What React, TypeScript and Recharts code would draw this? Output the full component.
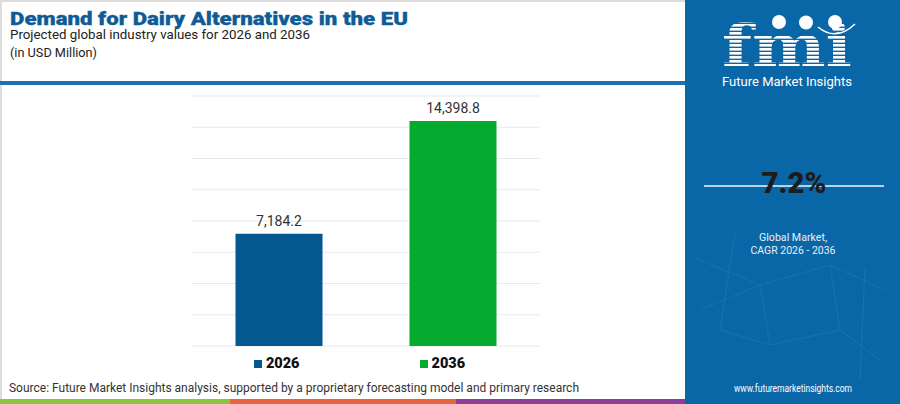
import React from 'react';
import { BarChart, Bar, XAxis, YAxis, CartesianGrid, Cell, LabelList, Legend } from 'recharts';

const categories = ['2026', '2036'];
const values = [7184.2, 14398.8];
const barColors = ['#03598f', '#05ab2f'];
const yTicks = [0, 2000, 4000, 6000, 8000, 10000, 12000, 14000, 16000];
const cagrText = '7.2%';

const data = categories.map((c, i) => ({ category: c, value: values[i] }));

const FONT = 'Roboto, "Open Sans", sans-serif';

const fmt = (v: number) =>
  v.toLocaleString('en-US', { minimumFractionDigits: 1, maximumFractionDigits: 1 });

const renderLabel = (props: any) => {
  const { x, y, width, value } = props;
  return (
    <text
      x={Number(x) + Number(width) / 2}
      y={Number(y) - 8}
      textAnchor="middle"
      fontSize={14}
      fill="#333333"
      fontFamily={FONT}
    >
      {fmt(Number(value))}
    </text>
  );
};

const renderLegend = () => (
  <div
    style={{
      width: 719,
      display: 'flex',
      justifyContent: 'center',
      gap: 120,
      fontFamily: FONT,
      fontWeight: 900,
      fontSize: 14.5,
      color: '#111',
    }}
  >
    {categories.map((c, i) => (
      <div key={c} style={{ display: 'flex', alignItems: 'center' }}>
        <span
          style={{
            display: 'inline-block',
            width: 8,
            height: 8,
            background: barColors[i],
            marginRight: 4,
          }}
        />
        <span>{c}</span>
      </div>
    ))}
  </div>
);

export default function App() {
  return (
    <div
      style={{
        position: 'absolute',
        left: 0,
        top: 0,
        width: 900,
        height: 404,
        background: '#ffffff',
        overflow: 'hidden',
      }}
    >
      {/* borders */}
      <div style={{ position: 'absolute', left: 0, top: 0, width: 2, height: 404, background: '#dcdcdc' }} />
      <div style={{ position: 'absolute', left: 0, top: 0, width: 900, height: 2, background: '#dcdcdc' }} />
      {/* header line */}
      <div style={{ position: 'absolute', left: 0, top: 81, width: 690, height: 4, background: '#1f72b1' }} />

      <div style={{ position: 'absolute', left: 0, top: 0 }}>
        <BarChart
          width={900}
          height={404}
          data={data}
          margin={{ top: 96, right: 360, bottom: 58, left: 192 }}
          barCategoryGap="25%"
        >
          <CartesianGrid vertical={false} stroke="#e9e9e9" strokeWidth={1} />
          <XAxis dataKey="category" hide />
          <YAxis domain={[0, 16000]} ticks={yTicks} hide />
          <Legend
            layout="horizontal"
            verticalAlign="middle"
            align="center"
            content={renderLegend}
            wrapperStyle={{ position: 'absolute', top: 355, left: 0, width: 719 }}
          />
          <Bar dataKey="value" isAnimationActive={false}>
            {data.map((d, i) => (
              <Cell key={d.category} fill={barColors[i]} />
            ))}
            <LabelList dataKey="value" content={renderLabel} />
          </Bar>
        </BarChart>
      </div>

      <svg
        width={900}
        height={404}
        style={{ position: 'absolute', left: 0, top: 0, pointerEvents: 'none' }}
      >
        <defs>
          <pattern id="stripes" width="4" height="4" patternUnits="userSpaceOnUse">
            <rect width="4" height="2.6" fill="#ffffff" />
          </pattern>
        </defs>
        {/* titles */}
        <text x={10} y={25} fontFamily={FONT} fontWeight={900} fontSize={19} fill="#0e5b96" stroke="#0e5b96" strokeWidth={0.3} textLength={398} lengthAdjust="spacingAndGlyphs">
          Demand for Dairy Alternatives in the EU
        </text>
        <text x={10} y={39} fontFamily={FONT} fontSize={13} fill="#222" textLength={300} lengthAdjust="spacingAndGlyphs">
          Projected global industry values for 2026 and 2036
        </text>
        <text x={10} y={57} fontFamily={FONT} fontSize={13} fill="#222" textLength={87} lengthAdjust="spacingAndGlyphs">
          (in USD Million)
        </text>
        <text x={9} y={392} fontFamily={FONT} fontSize={12} fill="#333" textLength={570} lengthAdjust="spacingAndGlyphs">
          Source: Future Market Insights analysis, supported by a proprietary forecasting model and primary research
        </text>

        {/* bottom strip */}
        <rect x={0} y={399} width={230} height={5} fill="#8cc540" />
        <rect x={230} y={399} width={226} height={5} fill="#e8643c" />
        <rect x={456} y={399} width={234} height={5} fill="#8b3f98" />

        {/* right panel */}
        <rect x={685} y={0} width={215} height={404} fill="#0a67a7" />
        <g stroke="#3a8ac2" strokeWidth={0.7} opacity={0.45}>
          <line x1={695} y1={258} x2={760} y2={285} />
          <line x1={760} y1={285} x2={830} y2={265} />
          <line x1={830} y1={265} x2={885} y2={290} />
          <line x1={700} y1={310} x2={760} y2={285} />
          <line x1={760} y1={285} x2={770} y2={345} />
          <line x1={770} y1={345} x2={840} y2={330} />
          <line x1={840} y1={330} x2={830} y2={265} />
          <line x1={720} y1={330} x2={770} y2={345} />
          <line x1={840} y1={330} x2={880} y2={360} />
          <line x1={735} y1={232} x2={720} y2={330} />
          <line x1={865} y1={268} x2={860} y2={380} />
        </g>

        {/* logo */}
        <text x={722} y={66} fontFamily='"DejaVu Serif", serif' fontWeight={700} fontSize={58} fill="url(#stripes)" textLength={130} lengthAdjust="spacingAndGlyphs">
          fmi
        </text>
        <circle cx={779} cy={22} r={7} fill="#ffffff" />
        <circle cx={806} cy={22.5} r={7} fill="#ffffff" />
        <circle cx={835} cy={22} r={7} fill="#ffffff" />
        <path d="M 818 27 Q 836 42 855 24" fill="none" stroke="#ffffff" strokeWidth={1.5} />
        <text x={722} y={86} fontFamily={FONT} fontSize={13} fill="#ffffff" textLength={130} lengthAdjust="spacingAndGlyphs">
          Future Market Insights
        </text>

        {/* CAGR */}
        <line x1={704} y1={186} x2={884} y2={186} stroke="#b9d2e6" strokeWidth={2} />
        <text x={794} y={193} textAnchor="middle" fontFamily={FONT} fontWeight={900} fontSize={30} fill="#1c1c1c" textLength={65} lengthAdjust="spacingAndGlyphs">
          {cagrText}
        </text>
        <text x={793} y={241} textAnchor="middle" fontFamily={FONT} fontSize={11} fill="#e8eff6" textLength={68} lengthAdjust="spacingAndGlyphs">
          Global Market,
        </text>
        <text x={793} y={254} textAnchor="middle" fontFamily={FONT} fontSize={11} fill="#e8eff6" textLength={85} lengthAdjust="spacingAndGlyphs">
          CAGR 2026 - 2036
        </text>
        <text x={793} y={392} textAnchor="middle" fontFamily={FONT} fontSize={10} fill="#ffffff" textLength={118} lengthAdjust="spacingAndGlyphs">
          www.futuremarketinsights.com
        </text>
      </svg>
    </div>
  );
}
